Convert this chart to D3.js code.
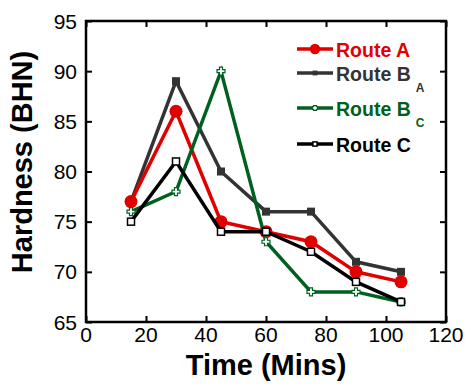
<!DOCTYPE html>
<html>
<head>
<meta charset="utf-8">
<script src="https://cdn.jsdelivr.net/npm/d3@7"></script>
<style>
body { margin: 0; background: #fff; }
text { font-family: "Liberation Sans", Arial, sans-serif; }
</style>
</head>
<body>
<script>
var width = 471;
var height = 388;

var times = [15, 30, 45, 60, 75, 90, 105];
var routeA = [77, 86, 75, 74, 73, 70, 69];
var routeBA = [77, 89, 80, 76, 76, 71, 70];
var routeBC = [76, 78, 90, 73, 68, 68, 67];
var routeC = [75, 81, 74, 74, 72, 69, 67];
var xTicks = [0, 20, 40, 60, 80, 100, 120];
var yTicks = [65, 70, 75, 80, 85, 90, 95];

var series = [
    { name: "Route B", sub: "A", values: routeBA, color: "#333333", marker: "fsquare", row: 1 },
    { name: "Route A", sub: null, values: routeA, color: "#e00000", marker: "circle", row: 0 },
    { name: "Route B", sub: "C", values: routeBC, color: "#006020", marker: "cross", row: 2 },
    { name: "Route C", sub: null, values: routeC, color: "#000000", marker: "osquare", row: 3 }
];

var plot_l = 86, plot_r = 446, plot_t = 21, plot_b = 322;

var x = d3.scaleLinear().domain([0, 120]).range([plot_l, plot_r]);
var y = d3.scaleLinear().domain([65, 95]).range([plot_b, plot_t]);

var svg = d3.select("body").append("svg")
    .attr("width", width)
    .attr("height", height);

// ticks inward on all four sides
svg.append("g").attr("transform", "translate(0," + plot_b + ")")
    .call(d3.axisTop(x).tickValues(xTicks).tickSize(6).tickFormat(""))
    .call(function(g) { g.select(".domain").remove(); });
svg.append("g").attr("transform", "translate(0," + plot_t + ")")
    .call(d3.axisBottom(x).tickValues(xTicks).tickSize(6).tickFormat(""))
    .call(function(g) { g.select(".domain").remove(); });
svg.append("g").attr("transform", "translate(" + plot_l + ",0)")
    .call(d3.axisRight(y).tickValues(yTicks).tickSize(6).tickFormat(""))
    .call(function(g) { g.select(".domain").remove(); });
svg.append("g").attr("transform", "translate(" + plot_r + ",0)")
    .call(d3.axisLeft(y).tickValues(yTicks).tickSize(6).tickFormat(""))
    .call(function(g) { g.select(".domain").remove(); });
svg.selectAll(".tick line").attr("stroke", "#000").attr("stroke-width", 2);

svg.append("rect")
    .attr("x", plot_l).attr("y", plot_t)
    .attr("width", plot_r - plot_l).attr("height", plot_b - plot_t)
    .attr("fill", "none").attr("stroke", "#000").attr("stroke-width", 2.5);

// tick labels
svg.selectAll(".xl").data(xTicks).enter().append("text")
    .attr("x", function(d) { return x(d); })
    .attr("y", 342)
    .attr("text-anchor", "middle")
    .attr("font-size", "21px")
    .text(function(d) { return d; });
svg.selectAll(".yl").data(yTicks).enter().append("text")
    .attr("x", 77)
    .attr("y", function(d) { return y(d) + 7.5; })
    .attr("text-anchor", "end")
    .attr("font-size", "21px")
    .text(function(d) { return d; });

svg.append("text")
    .attr("x", 266).attr("y", 375)
    .attr("text-anchor", "middle")
    .attr("font-size", "29px").attr("font-weight", "bold")
    .text("Time (Mins)");
svg.append("text")
    .attr("transform", "translate(32,162) rotate(-90)")
    .attr("text-anchor", "middle")
    .attr("font-size", "29px").attr("font-weight", "bold")
    .text("Hardness (BHN)");

function drawMarker(g, m, color, cx, cy, s) {
    if (m === "circle") {
        g.append("circle").attr("cx", cx).attr("cy", cy).attr("r", 6.5 * s).attr("fill", color);
    } else if (m === "fsquare") {
        g.append("rect").attr("x", cx - 4 * s).attr("y", cy - 4 * s)
            .attr("width", 8 * s).attr("height", 8 * s).attr("fill", color);
    } else if (m === "osquare") {
        g.append("rect").attr("x", cx - 3.5 * s).attr("y", cy - 3.5 * s)
            .attr("width", 7 * s).attr("height", 7 * s)
            .attr("fill", "#fff").attr("stroke", color).attr("stroke-width", 1.5);
    } else if (m === "cross") {
        var a = 4 * s, b = 1.5;
        g.append("path")
            .attr("d", "M" + (cx - b) + "," + (cy - a) + "H" + (cx + b) + "V" + (cy - b) + "H" + (cx + a) +
                "V" + (cy + b) + "H" + (cx + b) + "V" + (cy + a) + "H" + (cx - b) + "V" + (cy + b) +
                "H" + (cx - a) + "V" + (cy - b) + "H" + (cx - b) + "Z")
            .attr("fill", "#fff").attr("stroke", color).attr("stroke-width", 1.2);
    }
}

var line = d3.line()
    .x(function(d, i) { return x(times[i]); })
    .y(function(d) { return y(d); });

series.forEach(function(s) {
    var g = svg.append("g");
    g.append("path")
        .attr("d", line(s.values))
        .attr("fill", "none")
        .attr("stroke", s.color)
        .attr("stroke-width", 3.5)
        .attr("stroke-linejoin", "miter");
    s.values.forEach(function(v, i) {
        drawMarker(g, s.marker, s.color, x(times[i]), y(v), 1);
    });
});

// legend
var legendY = [49, 73, 108, 144];
series.forEach(function(s) {
    var ly = legendY[s.row];
    var g = svg.append("g");
    g.append("line").attr("x1", 297).attr("x2", 333).attr("y1", ly).attr("y2", ly)
        .attr("stroke", s.color).attr("stroke-width", 3.5);
    drawMarker(g, s.marker, s.color, 315, ly, s.marker === "circle" ? 0.8 : 0.6);
    var t = g.append("text")
        .attr("x", 336).attr("y", ly + 7.5)
        .attr("font-size", "19.5px").attr("font-weight", "bold")
        .attr("fill", s.color)
        .text(s.name);
    if (s.sub) {
        t.append("tspan").attr("font-size", "12px").attr("dx", 5).attr("dy", 11.5).text(s.sub);
    }
});
</script>
</body>
</html>
